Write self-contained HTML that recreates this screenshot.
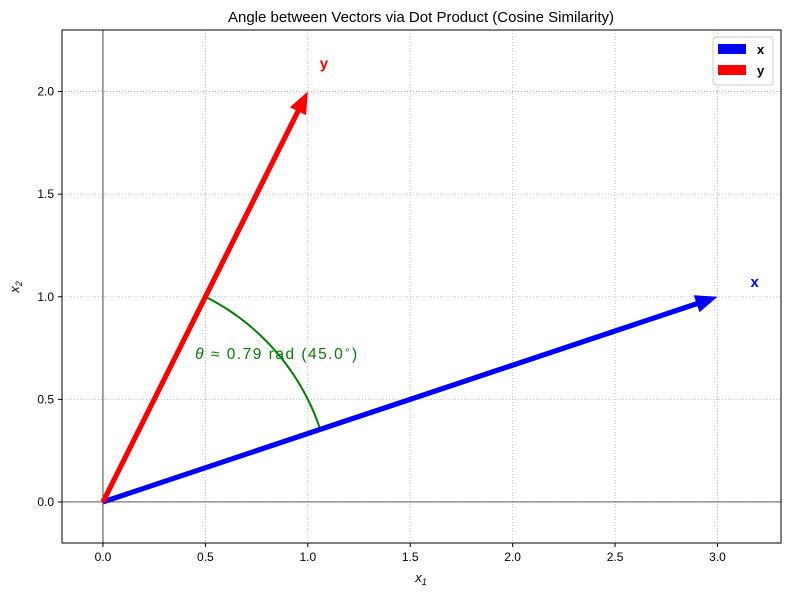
<!DOCTYPE html>
<html><head><meta charset="utf-8"><style>
body{margin:0;background:#fff;}
svg text{font-family:"Liberation Sans","DejaVu Sans",sans-serif;}
</style></head><body>
<svg id="chart" width="790" height="597" xmlns="http://www.w3.org/2000/svg">
<rect width="790" height="597" fill="#fff"/>
<g id="grid"></g>
<g id="ticks"></g>
<g id="marks"></g>
<rect x="62" y="30" width="719" height="513" fill="none" stroke="#000" stroke-width="1"/>
<text x="421" y="22" font-size="15" text-anchor="middle">Angle between Vectors via Dot Product (Cosine Similarity)</text>
<text x="421" y="582" font-size="13" text-anchor="middle" font-style="italic">x<tspan font-size="9" dy="3">1</tspan></text>
<text x="19" y="287" font-size="13" text-anchor="middle" font-style="italic" transform="rotate(-90 19 287)">x<tspan font-size="9" dy="3">2</tspan></text>
<g>
<rect x="713" y="37" width="60" height="48" rx="3" fill="#fff" stroke="#ccc"/>
<rect x="718" y="44" width="28" height="10" fill="#0000ff"/>
<text x="757" y="54" font-size="13" font-weight="bold">x</text>
<rect x="718" y="65" width="28" height="10" fill="#ff0000"/>
<text x="757" y="75" font-size="13" font-weight="bold">y</text>
</g>
</svg>
<script>
const xTicks=[0,0.5,1,1.5,2,2.5,3];
const yTicks=[0,0.5,1,1.5,2];
const xTickLabels=["0.0","0.5","1.0","1.5","2.0","2.5","3.0"];
const yTickLabels=["0.0","0.5","1.0","1.5","2.0"];
const vecX=[3,1];
const vecY=[1,2];
const vecNames=["x","y"];
const angleLabelPos=[0.45,0.72];
const xDomain=[-0.2,3.31], yDomain=[-0.2,2.3];
const L=62,R=781,T=30,B=543;
const sx=v=>L+(v-xDomain[0])/(xDomain[1]-xDomain[0])*(R-L);
const sy=v=>B-(v-yDomain[0])/(yDomain[1]-yDomain[0])*(B-T);
const NS="http://www.w3.org/2000/svg";
function mk(tag,attrs,parent,txt){const e=document.createElementNS(NS,tag);for(const k in attrs)e.setAttribute(k,attrs[k]);if(txt!==undefined)e.textContent=txt;parent.appendChild(e);return e;}
const grid=document.getElementById('grid'),ticks=document.getElementById('ticks'),marks=document.getElementById('marks');
xTicks.forEach((v,i)=>{
 const g=mk('line',{x1:sx(v),x2:sx(v),y1:T,y2:B,stroke:'#b0b0b0','stroke-dasharray':'1,2','stroke-width':0.8},grid);
 
 
 const t=mk('line',{x1:sx(v),x2:sx(v),y1:B,y2:B+4,stroke:'#000'},ticks);
 
 
 const l=mk('text',{x:sx(v),y:B+18,'font-size':12,'text-anchor':'middle'},ticks,xTickLabels[i]);
 
 
});
yTicks.forEach((v,i)=>{
 const g=mk('line',{x1:L,x2:R,y1:sy(v),y2:sy(v),stroke:'#b0b0b0','stroke-dasharray':'1,2','stroke-width':0.8},grid);
 
 
 const t=mk('line',{x1:L-4,x2:L,y1:sy(v),y2:sy(v),stroke:'#000'},ticks);
 
 
 const l=mk('text',{x:L-8,y:sy(v)+4,'font-size':12,'text-anchor':'end'},ticks,yTickLabels[i]);
 
 
});
const ax=mk('line',{x1:L,x2:R,y1:sy(0),y2:sy(0),stroke:'#000','stroke-width':0.7},marks);


const ay=mk('line',{x1:sx(0),x2:sx(0),y1:T,y2:B,stroke:'#000','stroke-width':0.7},marks);


const a1=Math.atan2(vecX[1],vecX[0]),a2=Math.atan2(vecY[1],vecY[0]);
const r=0.5*Math.min(Math.hypot(vecX[0],vecX[1]),Math.hypot(vecY[0],vecY[1]));
let d='';for(let i=0;i<=40;i++){const a=a1+(a2-a1)*i/40;d+=(i?'L':'M')+sx(r*Math.cos(a))+' '+sy(r*Math.sin(a));}
const arc=mk('path',{d:d,fill:'none',stroke:'#008000','stroke-width':2},marks);


const ang=Math.acos((vecX[0]*vecY[0]+vecX[1]*vecY[1])/(Math.hypot(vecX[0],vecX[1])*Math.hypot(vecY[0],vecY[1])));
const at=mk('text',{x:sx(angleLabelPos[0]),y:sy(angleLabelPos[1])+5,'font-size':15.5,fill:'#008000',textLength:162,lengthAdjust:'spacing'},marks);


at.innerHTML='<tspan font-style="italic">θ</tspan> ≈ '+ang.toFixed(2)+' rad (' + (ang*180/Math.PI).toFixed(1)+'<tspan font-size="10" dy="-6">∘</tspan><tspan dy="6">)</tspan>';
function arrow(v,color,name){
 const x0=sx(0),y0=sy(0),x1=sx(v[0]),y1=sy(v[1]);
 const dx=x1-x0,dy=y1-y0,len=Math.hypot(dx,dy),ux=dx/len,uy=dy/len,px=-uy,py=ux;
 const hl=22,hw=9,sw=2.6;
 const bx=x1-ux*hl,by=y1-uy*hl;
 const pts=[[x0+px*sw,y0+py*sw],[bx+px*sw,by+py*sw],[bx+px*hw,by+py*hw],[x1,y1],[bx-px*hw,by-py*hw],[bx-px*sw,by-py*sw],[x0-px*sw,y0-py*sw]];
 const p=mk('polygon',{points:pts.map(q=>q.join(',')).join(' '),fill:color},marks);
 
 
 const t=mk('text',{x:x1+(name==='x'?33:12),y:y1+(name==='x'?-10:-23),'font-size':15,'font-weight':'bold',fill:color},marks,name);
 
 
}
arrow(vecX,'#0000ff',vecNames[0]);
arrow(vecY,'#ff0000',vecNames[1]);
</script>
</body></html>
